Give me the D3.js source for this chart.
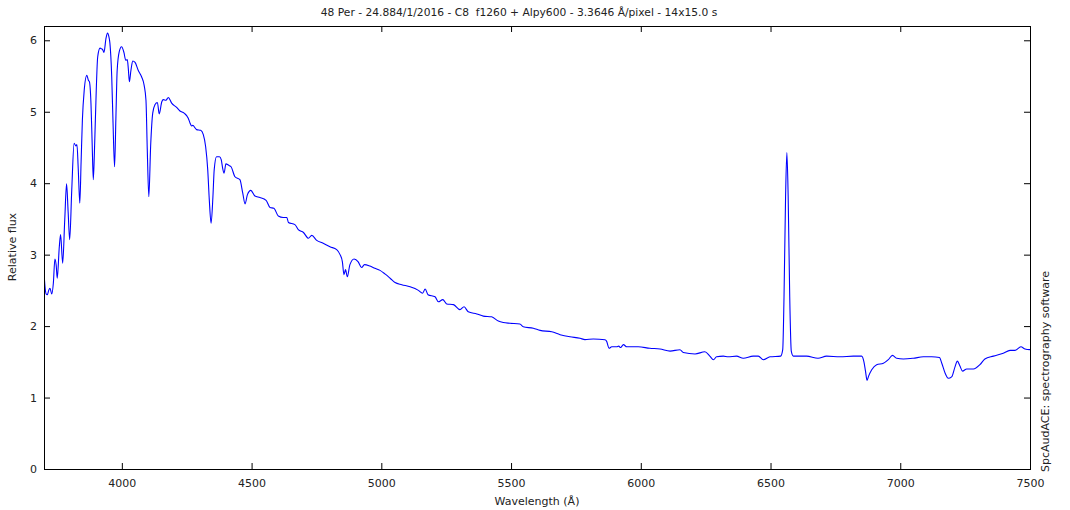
<!DOCTYPE html>
<html>
<head>
<meta charset="utf-8">
<script src="https://cdn.jsdelivr.net/npm/d3@7"></script>
<style>
  html, body { margin: 0; padding: 0; background: #fff; }
  svg { display: block; }
  text { font-family: "DejaVu Sans", Verdana, sans-serif; font-size: 11px; fill: #222; white-space: pre; }
</style>
</head>
<body>
<svg id="chart" width="1070" height="510"></svg>
<script>
const titleText = "48 Per - 24.884/1/2016 - C8  f1260 + Alpy600 - 3.3646 \u00C5/pixel - 14x15.0 s";
const xLabel = "Wavelength (\u00C5)";
const yLabel = "Relative flux";
const creditText = "SpcAudACE: spectrography software";
const xTicks = [4000, 4500, 5000, 5500, 6000, 6500, 7000, 7500];
const yTicks = [0, 1, 2, 3, 4, 5, 6];

const wavelength = [
 3700,3704,3708,3713,3718,3723,3730,3736,3742,3747,3751,3759,3764,3772,3780,3787,3793,3799,3807,3816,
 3823,3827,3832,3838,3843,3848,3855,3865,3871,3875,3881,3886,3890,3894,3898,3907,3916,3922,3926,3931,
 3939,3945,3950,3954,3961,3966,3972,3977,3982,3990,3999,4008,4015,4021,4025,4029,4035,4042,4051,4063,
 4076,4086,4093,4098,4104,4111,4119,4128,4137,4144,4154,4160,4170,4179,4192,4211,4224,4240,4256,4263,
 4269,4273,4288,4304,4314,4323,4331,4337,4344,4351,4356,4365,4376,4383,4389,4394,4401,4412,4421,4436,
 4455,4466,4475,4484,4497,4513,4532,4556,4571,4586,4603,4622,4636,4642,4667,4680,4700,4719,4732,4751,
 4776,4802,4828,4841,4850,4856,4862,4869,4879,4895,4911,4924,4935,4956,4975,4995,5014,5034,5053,5079,
 5111,5143,5159,5169,5180,5207,5220,5237,5252,5278,5303,5319,5335,5368,5393,5425,5451,5470,5496,5534,
 5547,5586,5612,5657,5689,5727,5766,5785,5817,5862,5868,5878,5888,5907,5915,5922,5933,5946,5990,6035,
 6074,6113,6151,6164,6209,6247,6266,6280,6292,6318,6337,6369,6395,6433,6453,6472,6498,6539,6547,6552,
 6558,6563,6568,6574,6580,6588,6639,6683,6716,6768,6819,6851,6860,6866,6872,6878,6890,6909,6935,6954,
 6970,6986,7012,7050,7089,7121,7151,7160,7173,7185,7198,7211,7220,7230,7240,7256,7282,7307,7326,7359,
 7397,7423,7442,7465,7481,7500
];
const flux = [
 2.75,2.55,2.45,2.44,2.50,2.53,2.45,2.60,2.94,2.85,2.67,3.11,3.28,2.88,3.49,3.99,3.60,3.21,3.91,4.56,
 4.52,4.54,4.20,3.72,4.30,4.89,5.30,5.51,5.44,5.42,5.12,4.50,4.05,4.40,4.89,5.77,5.89,5.88,5.87,5.83,
 6.03,6.10,6.05,5.96,5.49,4.85,4.23,4.90,5.58,5.84,5.91,5.83,5.72,5.73,5.60,5.42,5.58,5.71,5.69,5.58,
 5.49,5.37,5.16,4.47,3.81,4.52,4.98,5.10,5.13,4.97,5.14,5.17,5.16,5.20,5.12,5.06,5.01,4.98,4.91,4.84,
 4.80,4.81,4.75,4.74,4.68,4.51,4.19,3.77,3.44,3.81,4.19,4.37,4.37,4.33,4.20,4.14,4.27,4.25,4.23,4.09,
 4.05,3.86,3.71,3.84,3.90,3.82,3.80,3.76,3.66,3.65,3.54,3.52,3.52,3.45,3.42,3.35,3.31,3.23,3.27,3.20,
 3.16,3.11,3.07,3.00,2.90,2.72,2.79,2.69,2.86,2.94,2.90,2.82,2.86,2.84,2.81,2.78,2.73,2.67,2.61,2.58,
 2.55,2.50,2.46,2.52,2.44,2.41,2.34,2.37,2.31,2.30,2.23,2.27,2.20,2.17,2.14,2.13,2.07,2.05,2.04,2.03,
 1.99,1.97,1.94,1.92,1.88,1.85,1.83,1.81,1.82,1.81,1.79,1.69,1.71,1.71,1.72,1.70,1.74,1.71,1.71,1.69,
 1.68,1.65,1.67,1.63,1.61,1.64,1.58,1.53,1.57,1.58,1.57,1.58,1.55,1.58,1.58,1.53,1.57,1.58,1.67,2.41,
 3.81,4.43,3.81,2.41,1.65,1.58,1.58,1.55,1.58,1.57,1.58,1.58,1.50,1.37,1.24,1.30,1.39,1.46,1.48,1.53,
 1.59,1.55,1.54,1.55,1.57,1.57,1.56,1.48,1.34,1.27,1.29,1.43,1.51,1.44,1.37,1.40,1.40,1.46,1.54,1.58,
 1.62,1.66,1.66,1.71,1.68,1.67
];

const W = 1070, H = 510;
const margin = { left: 44, right: 40, top: 26, bottom: 41 };
const iw = W - margin.left - margin.right;
const ih = H - margin.top - margin.bottom;

const svg = d3.select("#chart");
const x = d3.scaleLinear().domain([3700, 7500]).range([margin.left, margin.left + iw]);
const y = d3.scaleLinear().domain([0, 6.2]).range([margin.top + ih, margin.top]);

const points = wavelength.map((w, i) => [w, flux[i]]);

svg.append("clipPath").attr("id", "clip").append("rect")
  .attr("x", margin.left).attr("y", margin.top).attr("width", iw).attr("height", ih);

const line = d3.line().x(d => x(d[0])).y(d => y(d[1])).curve(d3.curveMonotoneX);
svg.append("path").datum(points)
  .attr("clip-path", "url(#clip)")
  .attr("fill", "none").attr("stroke", "#0000ff").attr("stroke-width", 1.1)
  .attr("stroke-linejoin", "round")
  .attr("d", line);

const tickLen = 6;
const axB = svg.append("g").attr("transform", `translate(0,${margin.top + ih})`)
  .call(d3.axisBottom(x).tickValues(xTicks).tickSizeInner(-tickLen).tickSizeOuter(0).tickPadding(10).tickFormat(d3.format("d")));
const axT = svg.append("g").attr("transform", `translate(0,${margin.top})`)
  .call(d3.axisTop(x).tickValues(xTicks).tickSizeInner(-tickLen).tickSizeOuter(0).tickFormat(""));
const axL = svg.append("g").attr("transform", `translate(${margin.left},0)`)
  .call(d3.axisLeft(y).tickValues(yTicks).tickSizeInner(-tickLen).tickSizeOuter(0).tickPadding(7).tickFormat(d3.format("d")));
const axR = svg.append("g").attr("transform", `translate(${margin.left + iw},0)`)
  .call(d3.axisRight(y).tickValues(yTicks).tickSizeInner(-tickLen).tickSizeOuter(0).tickFormat(""));
[axB, axT, axL, axR].forEach(g => {
  g.select(".domain").remove();
  g.selectAll("line").attr("stroke", "#000");
  g.selectAll("text").style("font-family", "DejaVu Sans, Verdana, sans-serif").style("font-size", "11px").attr("fill", "#222");
});

svg.append("rect").attr("x", margin.left + 0.5).attr("y", margin.top + 0.5)
  .attr("width", iw).attr("height", ih)
  .attr("fill", "none").attr("stroke", "#000").attr("stroke-width", 1);

svg.append("text").attr("x", 519).attr("y", 16).attr("text-anchor", "middle")
  .attr("xml:space", "preserve").style("font-size", "10.7px").text(titleText);
svg.append("text").attr("x", 537).attr("y", 505).attr("text-anchor", "middle").text(xLabel);
svg.append("text").attr("transform", "translate(16,247) rotate(-90)").attr("text-anchor", "middle").text(yLabel);
svg.append("text").attr("transform", "translate(1049,472) rotate(-90)").attr("text-anchor", "start").text(creditText);
</script>
</body>
</html>
